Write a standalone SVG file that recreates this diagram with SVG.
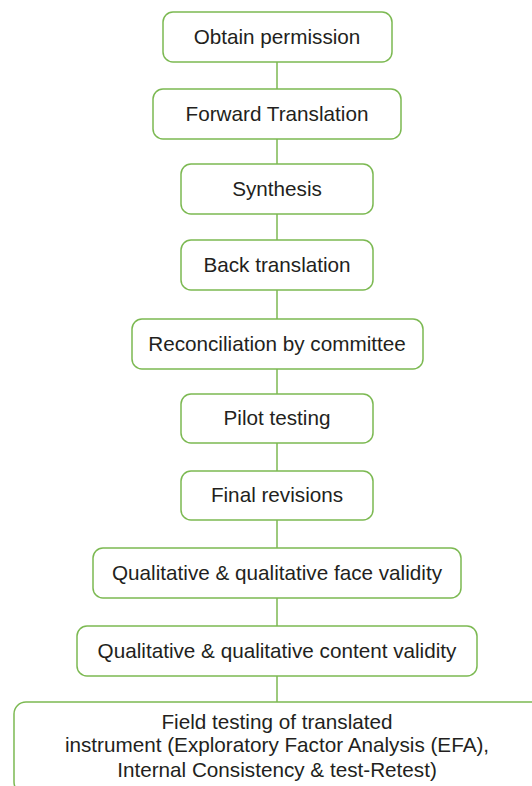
<svg xmlns="http://www.w3.org/2000/svg" width="532" height="786" viewBox="0 0 532 786">
  <style>
    .box { fill: #ffffff; stroke: #7cb952; stroke-width: 1.5; }
    .lbl { font-family: "Liberation Sans", Arial, sans-serif; font-size: 20.7px; fill: #231f20; text-anchor: middle; }
    .link { stroke: #7cb952; stroke-width: 1.5; fill: none; }
  </style>
  <rect x="0" y="0" width="532" height="786" fill="#ffffff"/>

  <!-- vertical connectors between consecutive steps -->
  <g id="connectors">
    <line class="link" x1="277" y1="62" x2="277" y2="89"/>
    <line class="link" x1="277" y1="139" x2="277" y2="164"/>
    <line class="link" x1="277" y1="214" x2="277" y2="240"/>
    <line class="link" x1="277" y1="290" x2="277" y2="319"/>
    <line class="link" x1="277" y1="369" x2="277" y2="394"/>
    <line class="link" x1="277" y1="443" x2="277" y2="471"/>
    <line class="link" x1="277" y1="520" x2="277" y2="548"/>
    <line class="link" x1="277" y1="598" x2="277" y2="626"/>
    <line class="link" x1="277" y1="676" x2="277" y2="702"/>
  </g>

  <g id="obtain-permission">
    <rect class="box" x="163" y="12" width="229" height="50" rx="10"/>
    <text class="lbl" x="277" y="44">Obtain permission</text>
  </g>
  <g id="forward-translation">
    <rect class="box" x="153" y="89" width="248" height="50" rx="10"/>
    <text class="lbl" x="277" y="121">Forward Translation</text>
  </g>
  <g id="synthesis">
    <rect class="box" x="181" y="164" width="192" height="50" rx="10"/>
    <text class="lbl" x="277" y="196">Synthesis</text>
  </g>
  <g id="back-translation">
    <rect class="box" x="181" y="240" width="192" height="50" rx="10"/>
    <text class="lbl" x="277" y="272">Back translation</text>
  </g>
  <g id="reconciliation">
    <rect class="box" x="132" y="319" width="291" height="50" rx="10"/>
    <text class="lbl" x="277" y="351">Reconciliation by committee</text>
  </g>
  <g id="pilot-testing">
    <rect class="box" x="181" y="394" width="192" height="49" rx="10"/>
    <text class="lbl" x="277" y="425">Pilot testing</text>
  </g>
  <g id="final-revisions">
    <rect class="box" x="181" y="471" width="192" height="49" rx="10"/>
    <text class="lbl" x="277" y="502">Final revisions</text>
  </g>
  <g id="face-validity">
    <rect class="box" x="93" y="548" width="368" height="50" rx="10"/>
    <text class="lbl" x="277" y="580">Qualitative &amp; qualitative face validity</text>
  </g>
  <g id="content-validity">
    <rect class="box" x="77" y="626" width="400" height="50" rx="10"/>
    <text class="lbl" x="277" y="658">Qualitative &amp; qualitative content validity</text>
  </g>
  <g id="field-testing">
    <rect class="box" x="14" y="702" width="530" height="92" rx="12"/>
    <text class="lbl" x="277" y="729">Field testing of translated</text>
    <text class="lbl" x="277" y="752">instrument (Exploratory Factor Analysis (EFA),</text>
    <text class="lbl" x="277" y="777">Internal Consistency &amp; test-Retest)</text>
  </g>
</svg>
